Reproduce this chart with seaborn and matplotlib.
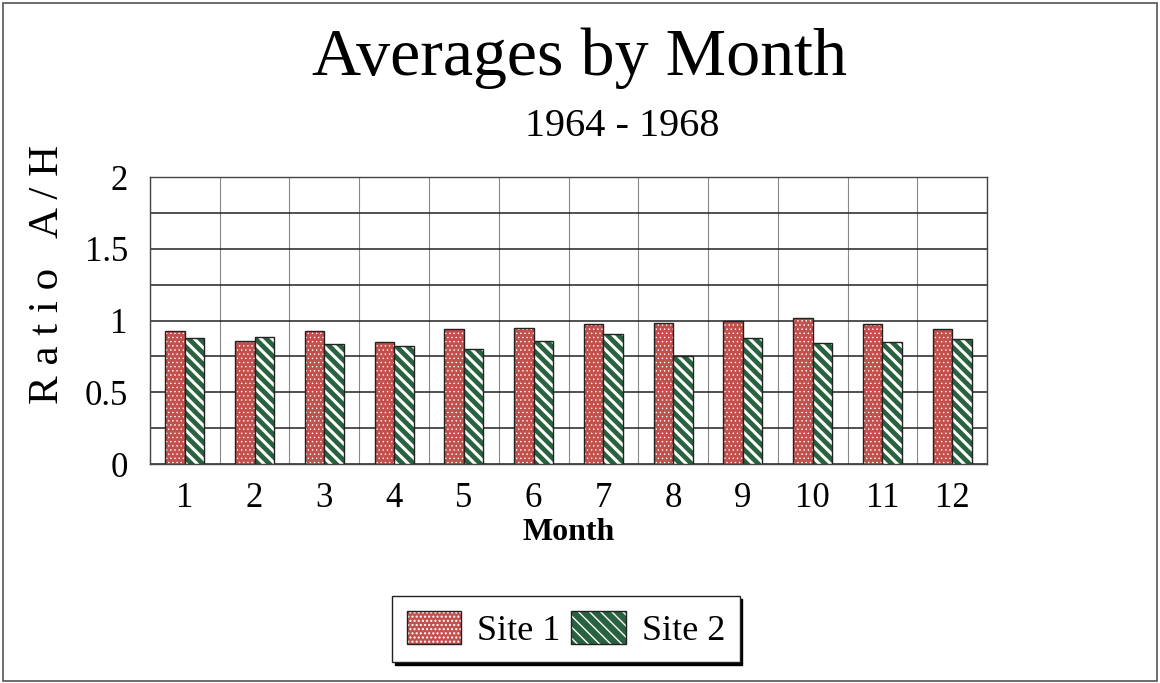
import pandas as pd
import numpy as np
import matplotlib
matplotlib.use("Agg")
import matplotlib.pyplot as plt
import seaborn as sns
from matplotlib.colors import to_rgba
from matplotlib.patches import Rectangle

# values
months = [1, 2, 3, 4, 5, 6, 7, 8, 9, 10, 11, 12]
site1 = [0.93, 0.86, 0.925, 0.85, 0.94, 0.945, 0.975, 0.985, 1.0, 1.02, 0.975, 0.94]
site2 = [0.875, 0.885, 0.835, 0.82, 0.805, 0.86, 0.905, 0.75, 0.88, 0.845, 0.85, 0.87]
sites = ["Site 1", "Site 2"]
y_ticks = [0, 0.25, 0.5, 0.75, 1, 1.25, 1.5, 1.75, 2]
y_labels = ["0", "", "0.5", "", "1", "", "1.5", "", "2"]

df = pd.DataFrame({
    "Month": months * 2,
    "Ratio": site1 + site2,
    "Site": [sites[0]] * 12 + [sites[1]] * 12,
})

sns.set_style("white")
plt.rcParams["font.family"] = ["Liberation Serif", "DejaVu Serif"]
plt.rcParams["text.color"] = "black"
plt.rcParams["xtick.color"] = "black"
plt.rcParams["ytick.color"] = "black"
plt.rcParams["axes.labelcolor"] = "black"

fig = plt.figure(figsize=(11.6, 6.83), dpi=100)
ax = fig.add_axes([0.1293, 0.3206, 0.7216, 0.4202])

sns.barplot(data=df, x="Month", y="Ratio", hue="Site", palette=["#d63e39", "#1f6b3c"],
            width=0.56, edgecolor="#222222", linewidth=1.0, ax=ax, legend=False, zorder=3)

# hatches: white dots on red, white stripes on green
hatches = ["....", "\\\\\\"]
hatch_lw = [0.5, 2.2]
for cont, h, lw in zip(ax.containers, hatches, hatch_lw):
    for p in cont:
        p.set_hatch(h)
        p._hatch_color = to_rgba("white")
        if hasattr(p, "set_hatch_linewidth"):
            p.set_hatch_linewidth(lw)
        else:
            p._hatch_linewidth = lw

ax.set_xlim(-0.5, 11.5)
ax.set_ylim(0, 2)
ax.set_yticks(y_ticks)
ax.set_yticklabels(y_labels)
ax.set_xticks(range(12))
ax.set_xticklabels([str(m) for m in months])
ax.set_xticks(np.arange(-0.5, 12, 1), minor=True)

ax.grid(axis="y", color="#222222", linewidth=1.1, zorder=0)
ax.grid(axis="x", which="minor", color="#888888", linewidth=0.8, zorder=0)
ax.set_axisbelow(True)
for s in ax.spines.values():
    s.set_color("#444444")
    s.set_linewidth(1.0)

ax.tick_params(axis="y", direction="out", length=8, width=1, color="#333333",
               labelsize=25, pad=8)
ax.tick_params(axis="x", which="major", length=0, labelsize=25, pad=13)
ax.tick_params(axis="x", which="minor", direction="out", length=8, width=0.8, color="#666666")

ax.set_xlabel("Month", fontsize=23, fontweight="bold", labelpad=2)
ax.set_ylabel("R a t i o   A / H", fontsize=31)
ax.yaxis.set_label_coords(-0.099, 0.66)

fig.text(0.5, 0.915, "Averages by Month", ha="center", va="center", fontsize=49)
fig.text(0.536, 0.815, "1964 - 1968", ha="center", va="center", fontsize=29)

leg = ax.legend(handles=[ax.containers[0][0], ax.containers[1][0]], labels=sites,
                loc="center", bbox_to_anchor=(0.488, 0.079), bbox_transform=fig.transFigure,
                fontsize=26, frameon=True, fancybox=False, shadow={"color": "black", "alpha": 1},
                ncol=2, handlelength=1.5, handleheight=1.05, handletextpad=0.45,
                columnspacing=0.3, borderpad=0.4, borderaxespad=0, edgecolor="#222222")
leg.get_frame().set_linewidth(1.0)

# frame around the whole picture
fig.patches.append(Rectangle((0.003, 0.003), 0.994, 0.992, transform=fig.transFigure,
                             fill=False, edgecolor="#555555", linewidth=1.2))

plt.savefig("out.png", dpi=100)
